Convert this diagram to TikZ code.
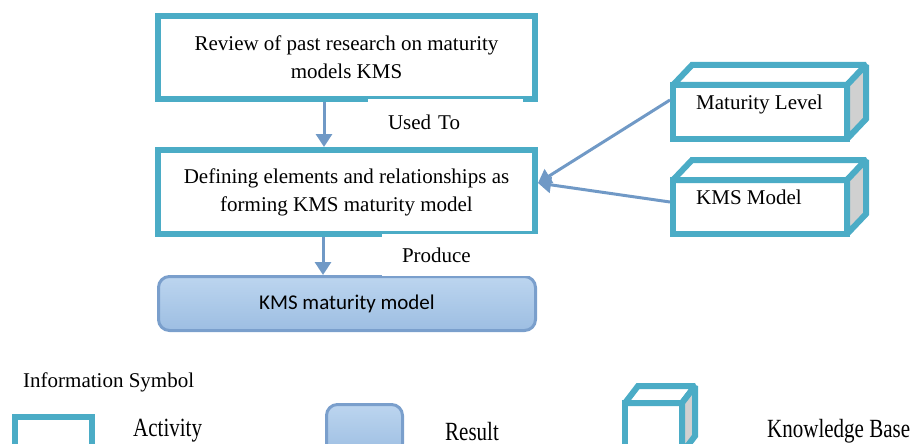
\documentclass[tikz,border=0pt]{standalone}
\usepackage{fontspec}
\usepackage{graphicx}
\setmainfont{Liberation Serif}
\newfontfamily\calfont{Carlito}
\usetikzlibrary{arrows.meta,calc}
\definecolor{aqua}{RGB}{75,172,198}
\definecolor{sidegray}{RGB}{208,208,208}
\definecolor{arrowc}{RGB}{112,153,198}
\definecolor{resborder}{RGB}{122,159,204}
\definecolor{restop}{RGB}{188,213,239}
\definecolor{resbot}{RGB}{157,190,226}
\begin{document}
\begin{tikzpicture}[x=1pt,y=-1pt,
  txt/.style={font=\fontsize{21}{28}\selectfont},
  activity/.style={txt, draw=aqua, line width=6pt, fill=white, minimum width=377pt, minimum height=84pt, align=center, inner sep=0pt},
  result/.style={draw=resborder, line width=3pt, rounded corners=11pt, top color=restop, bottom color=resbot, minimum width=377pt, minimum height=54pt, inner sep=0pt, font=\calfont\fontsize{21}{28}\selectfont},
  cube/.style={draw=aqua, line width=6pt, fill=white, outer sep=0pt, inner sep=0pt, line join=miter, miter limit=1.5},
  face/.style={draw=aqua, line width=6pt, line join=miter, miter limit=1.5},
  arr/.style={draw=arrowc, line width=3pt, -{Triangle[length=13pt,width=16pt]}},
  lab/.style={txt, fill=white, inner xsep=20pt, inner ysep=0pt, align=left},
  stretched/.style={txt, anchor=base west, inner sep=0pt}
]
\clip (0,0) rectangle (911,444);

% activities
\node[activity, minimum height=83pt] (review) at (346.5,57.5) {Review of past research on maturity\\models KMS};
\node[activity] (define) at (346.5,192) {Defining elements and relationships as\\forming KMS maturity model};
\node[result] (res) at (347,303.5) {KMS maturity model};

% knowledge bases (cubes)
\node[cube, minimum width=174pt, minimum height=54pt] (ml) at (760,112) {};
\node[cube, minimum width=174pt, minimum height=54pt] (kms) at (760,207) {};
\node[cube, minimum width=57pt, minimum height=50pt] (legkb) at (653.5,428) {};
\foreach \n/\dx/\dy in {ml/19/20, kms/19/20, legkb/13/17}{
  \filldraw[face, fill=white] (\n.north west) -- ++(\dx,-\dy) -- ($(\n.north east)+(\dx,-\dy)$) -- (\n.north east) -- cycle;
  \filldraw[face, fill=sidegray] (\n.north east) -- ++(\dx,-\dy) -- ($(\n.south east)+(\dx,-\dy)$) -- (\n.south east) -- cycle;
}
\node[txt, anchor=base west, inner sep=0pt] (mltxt) at (696,110) {Maturity Level};
\node[txt, anchor=base west, inner sep=0pt] (kmstxt) at (696,204) {KMS Model};

% connectors
\draw[arr] ([xshift=-22.5pt]review.south) -- ([xshift=-22.5pt]define.north);
\draw[arr] ([xshift=-23.5pt]define.south) -- ([xshift=-24pt]res.north);
\draw[arr] ($(ml.west)+(-3,-12)$) -- ($(define.east)+(0,-9)$);
\draw[arr] ($(kms.west)+(-3,-5)$) -- ($(define.east)+(0,-9)$);

% connector labels
\node[lab, text width=115pt, minimum height=46.5pt] (usedto) at (445.5,122.75) {Used To};
\node[lab, text width=118pt, minimum height=42pt] (produce) at (461,255) {Produce};

% legend
\node[txt, anchor=base west, inner sep=0pt] (info) at (23,387) {Information Symbol};
\node[draw=aqua, line width=6pt, fill=white, minimum width=77pt, minimum height=40pt, inner sep=0pt] (legact) at (53.5,437) {};
\node[stretched] (legacttxt) at (133,436.5) {\scalebox{1}[1.25]{Activity}};
\node[result, minimum width=76pt, minimum height=50pt] (legres) at (364.5,429.5) {};
\node[stretched] (legrestxt) at (445,440) {\scalebox{1}[1.25]{Result}};
\node[stretched] (legkbtxt) at (767,437) {\scalebox{1}[1.25]{Knowledge Base}};
\end{tikzpicture}
\end{document}
